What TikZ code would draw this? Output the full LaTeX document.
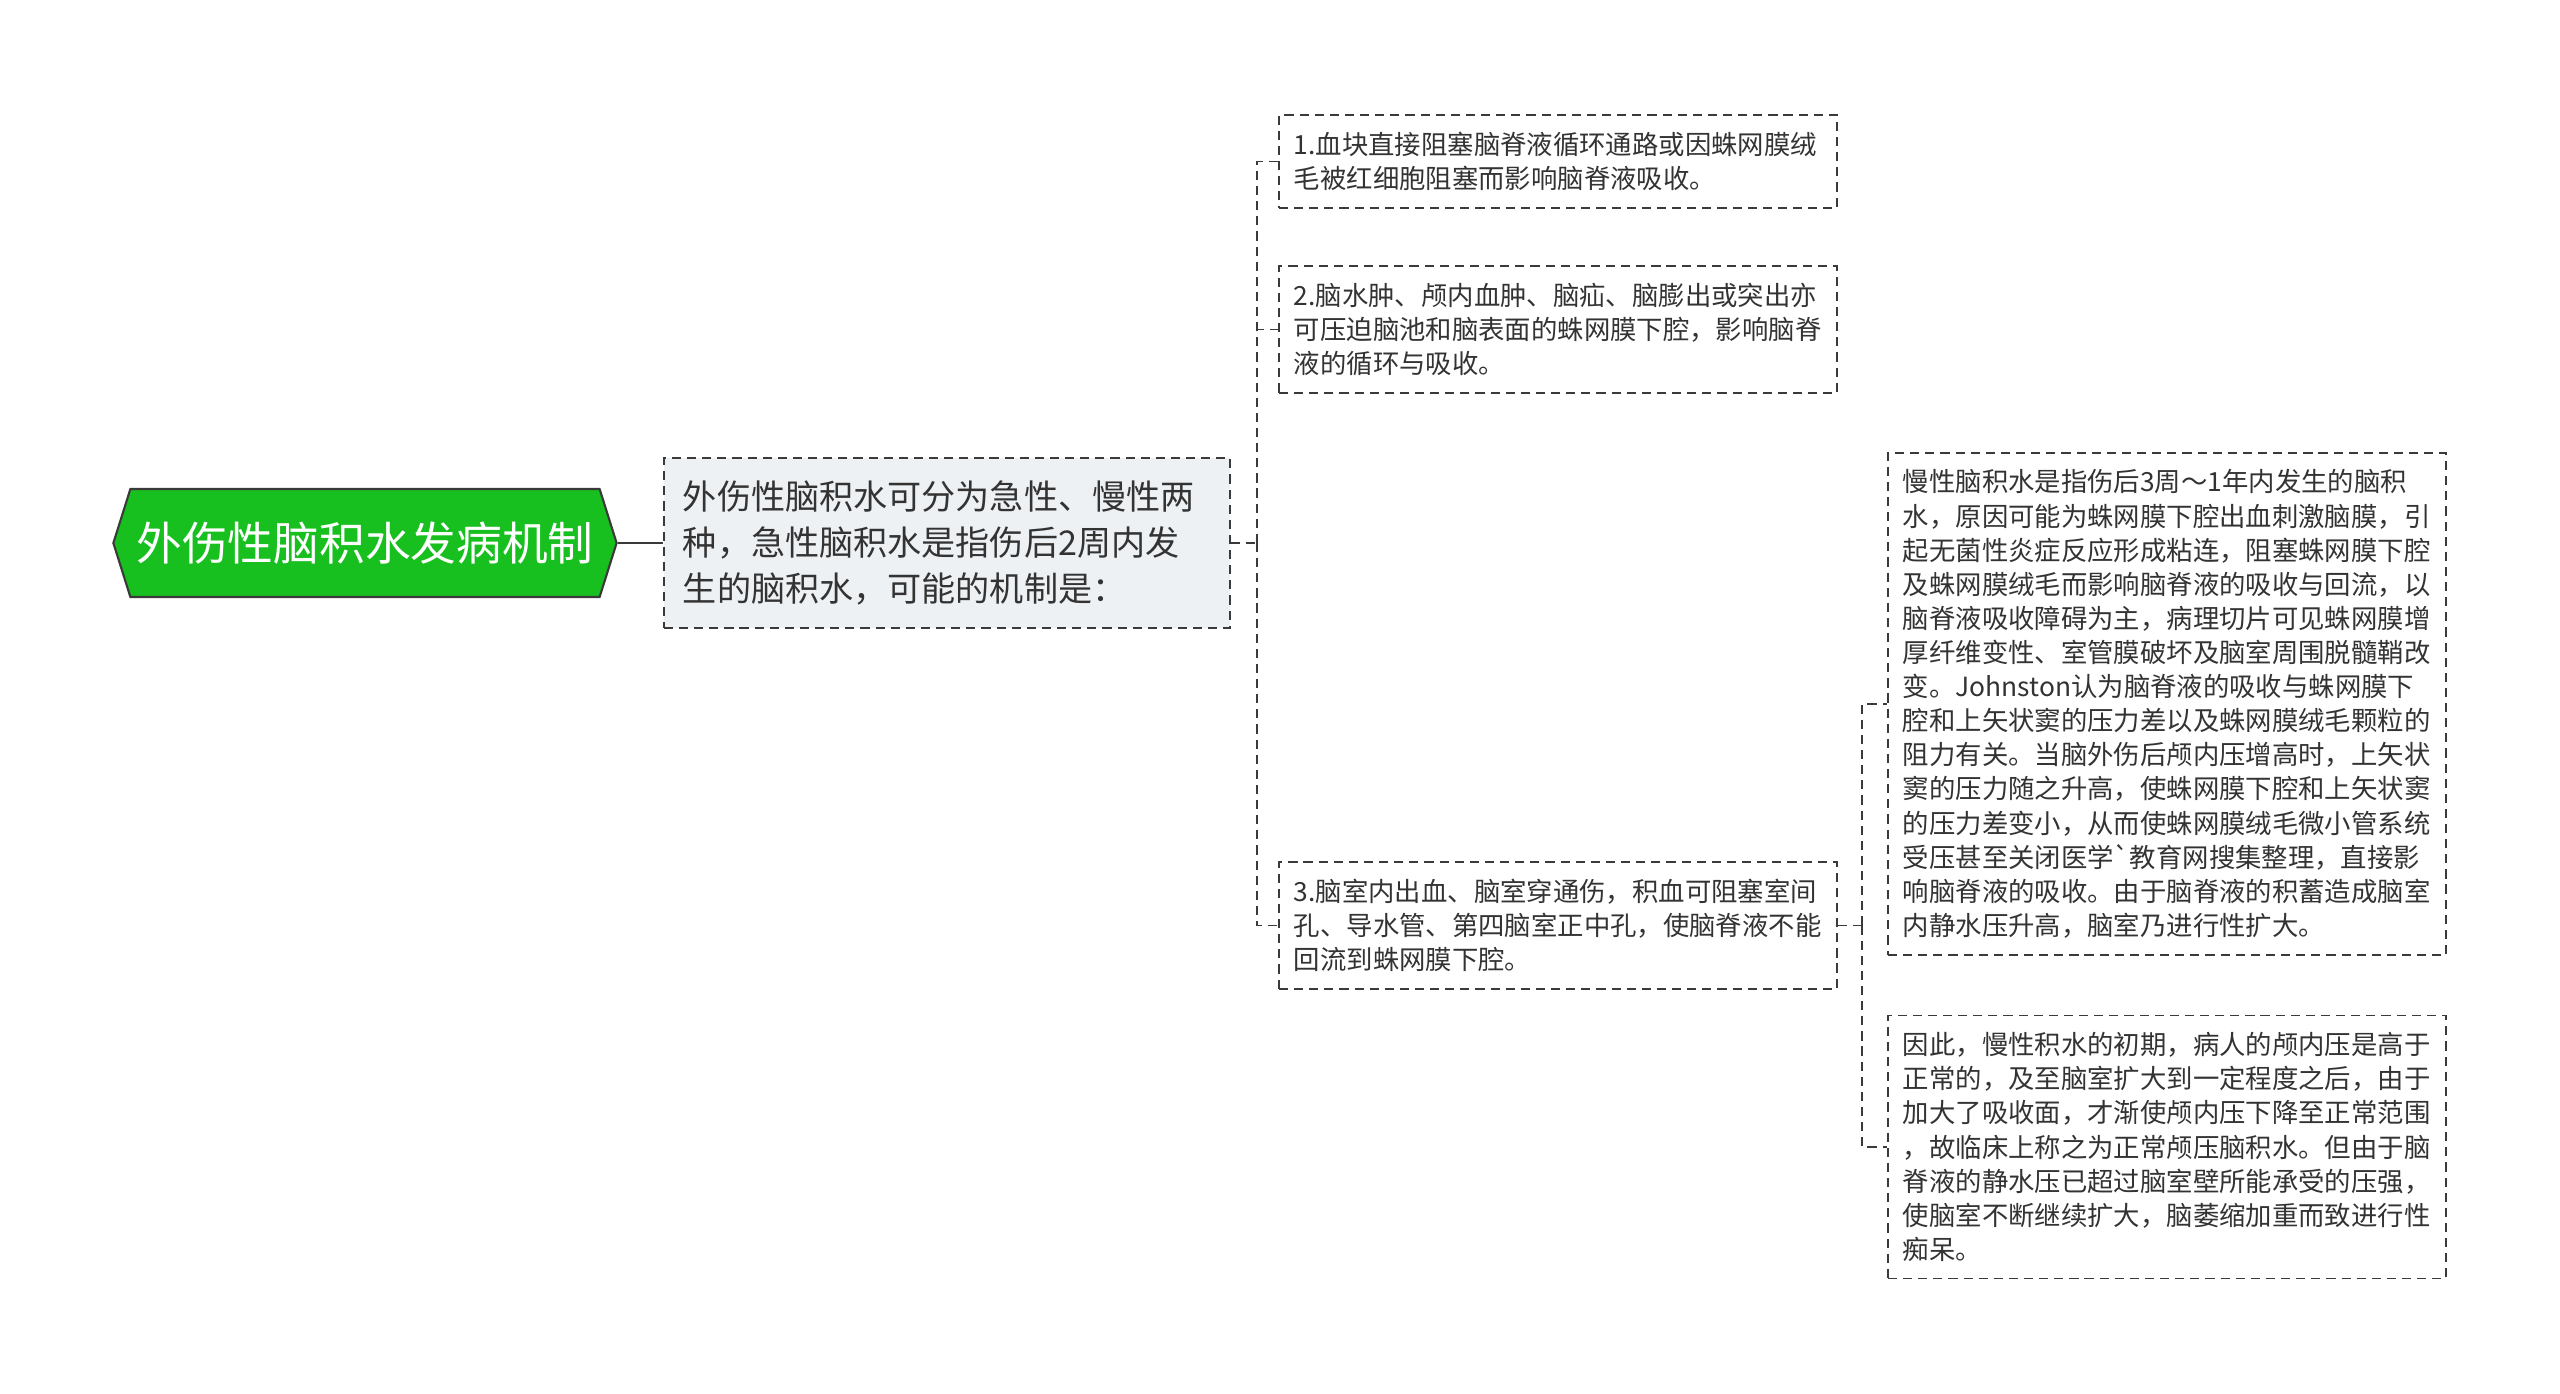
\documentclass[tikz,border=0pt]{standalone}
\usepackage{fontspec}
\setmainfont{Noto Sans CJK SC}
\usetikzlibrary{shapes.symbols}
\definecolor{rootgreen}{HTML}{17BF1F}
\definecolor{edgegrey}{HTML}{3A3A3A}
\definecolor{textgrey}{HTML}{333333}
\definecolor{boxfill}{HTML}{EEF1F4}
\begin{document}
\begin{tikzpicture}[x=0.01cm,y=-0.01cm,
  rootnode/.style={shape=signal, signal to=west and east, signal pointer angle=145,
    draw=edgegrey, line width=0.6pt, fill=rootgreen, text=white,
    minimum width=5.03cm, minimum height=1.08cm, inner xsep=0pt,
    font=\fontsize{13}{15}\selectfont},
  midnode/.style={draw=edgegrey, line width=0.5pt, dash pattern=on 2.6pt off 1.7pt,
    fill=boxfill, text=textgrey, anchor=west, align=left, text width=5.28cm,
    inner xsep=0.19cm, inner ysep=0.23cm, font=\fontsize{9.7}{13}\selectfont},
  leaf/.style={draw=edgegrey, line width=0.5pt, dash pattern=on 2.6pt off 1.7pt,
    fill=white, text=textgrey, anchor=west, align=left, text width=5.28cm,
    inner xsep=0.15cm, inner ysep=0.17cm, font=\fontsize{7.5}{9.7}\selectfont},
  link/.style={draw=edgegrey, line width=0.5pt, dash pattern=on 2.6pt off 1.7pt}]
\useasboundingbox (0,0) rectangle (2560,1394);
\node[rootnode] (root) at (365,543) {外伤性脑积水发病机制};
\node[midnode] (cause) at (663,543) {外伤性脑积水可分为急性、慢性两\\种，急性脑积水是指伤后2周内发\\生的脑积水，可能的机制是：};
\node[leaf] (clot) at (1278,161.5) {1.血块直接阻塞脑脊液循环通路或因蛛网膜绒\\毛被红细胞阻塞而影响脑脊液吸收。};
\node[leaf] (edema) at (1278,329.5) {2.脑水肿、颅内血肿、脑疝、脑膨出或突出亦\\可压迫脑池和脑表面的蛛网膜下腔，影响脑脊\\液的循环与吸收。};
\node[leaf] (bleed) at (1278,925.5) {3.脑室内出血、脑室穿通伤，积血可阻塞室间\\孔、导水管、第四脑室正中孔，使脑脊液不能\\回流到蛛网膜下腔。};
\node[leaf] (chronic) at (1887,704) {慢性脑积水是指伤后3周～1年内发生的脑积\\水，原因可能为蛛网膜下腔出血刺激脑膜，引\\起无菌性炎症反应形成粘连，阻塞蛛网膜下腔\\及蛛网膜绒毛而影响脑脊液的吸收与回流，以\\脑脊液吸收障碍为主，病理切片可见蛛网膜增\\厚纤维变性、室管膜破坏及脑室周围脱髓鞘改\\变。Johnston认为脑脊液的吸收与蛛网膜下\\腔和上矢状窦的压力差以及蛛网膜绒毛颗粒的\\阻力有关。当脑外伤后颅内压增高时，上矢状\\窦的压力随之升高，使蛛网膜下腔和上矢状窦\\的压力差变小，从而使蛛网膜绒毛微小管系统\\受压甚至关闭医学\textasciigrave 教育网搜集整理，直接影\\响脑脊液的吸收。由于脑脊液的积蓄造成脑室\\内静水压升高，脑室乃进行性扩大。};
\node[leaf] (normal) at (1887,1147) {因此，慢性积水的初期，病人的颅内压是高于\\正常的，及至脑室扩大到一定程度之后，由于\\加大了吸收面，才渐使颅内压下降至正常范围\\，故临床上称之为正常颅压脑积水。但由于脑\\脊液的静水压已超过脑室壁所能承受的压强，\\使脑室不断继续扩大，脑萎缩加重而致进行性\\痴呆。};
\draw[edgegrey, line width=0.6pt] (root.east) -- (cause.west);
\path (cause.east) ++(26,0) coordinate (fork1);
\path (bleed.east) ++(24,0) coordinate (fork2);
\draw[link] (cause.east) -- (fork1);
\draw[link] (fork1) |- (clot.west);
\draw[link] (fork1) |- (edema.west);
\draw[link] (fork1) |- (bleed.west);
\draw[link] (bleed.east) -- (fork2);
\draw[link] (fork2) |- (chronic.west);
\draw[link] (fork2) |- (normal.west);
\end{tikzpicture}
\end{document}
